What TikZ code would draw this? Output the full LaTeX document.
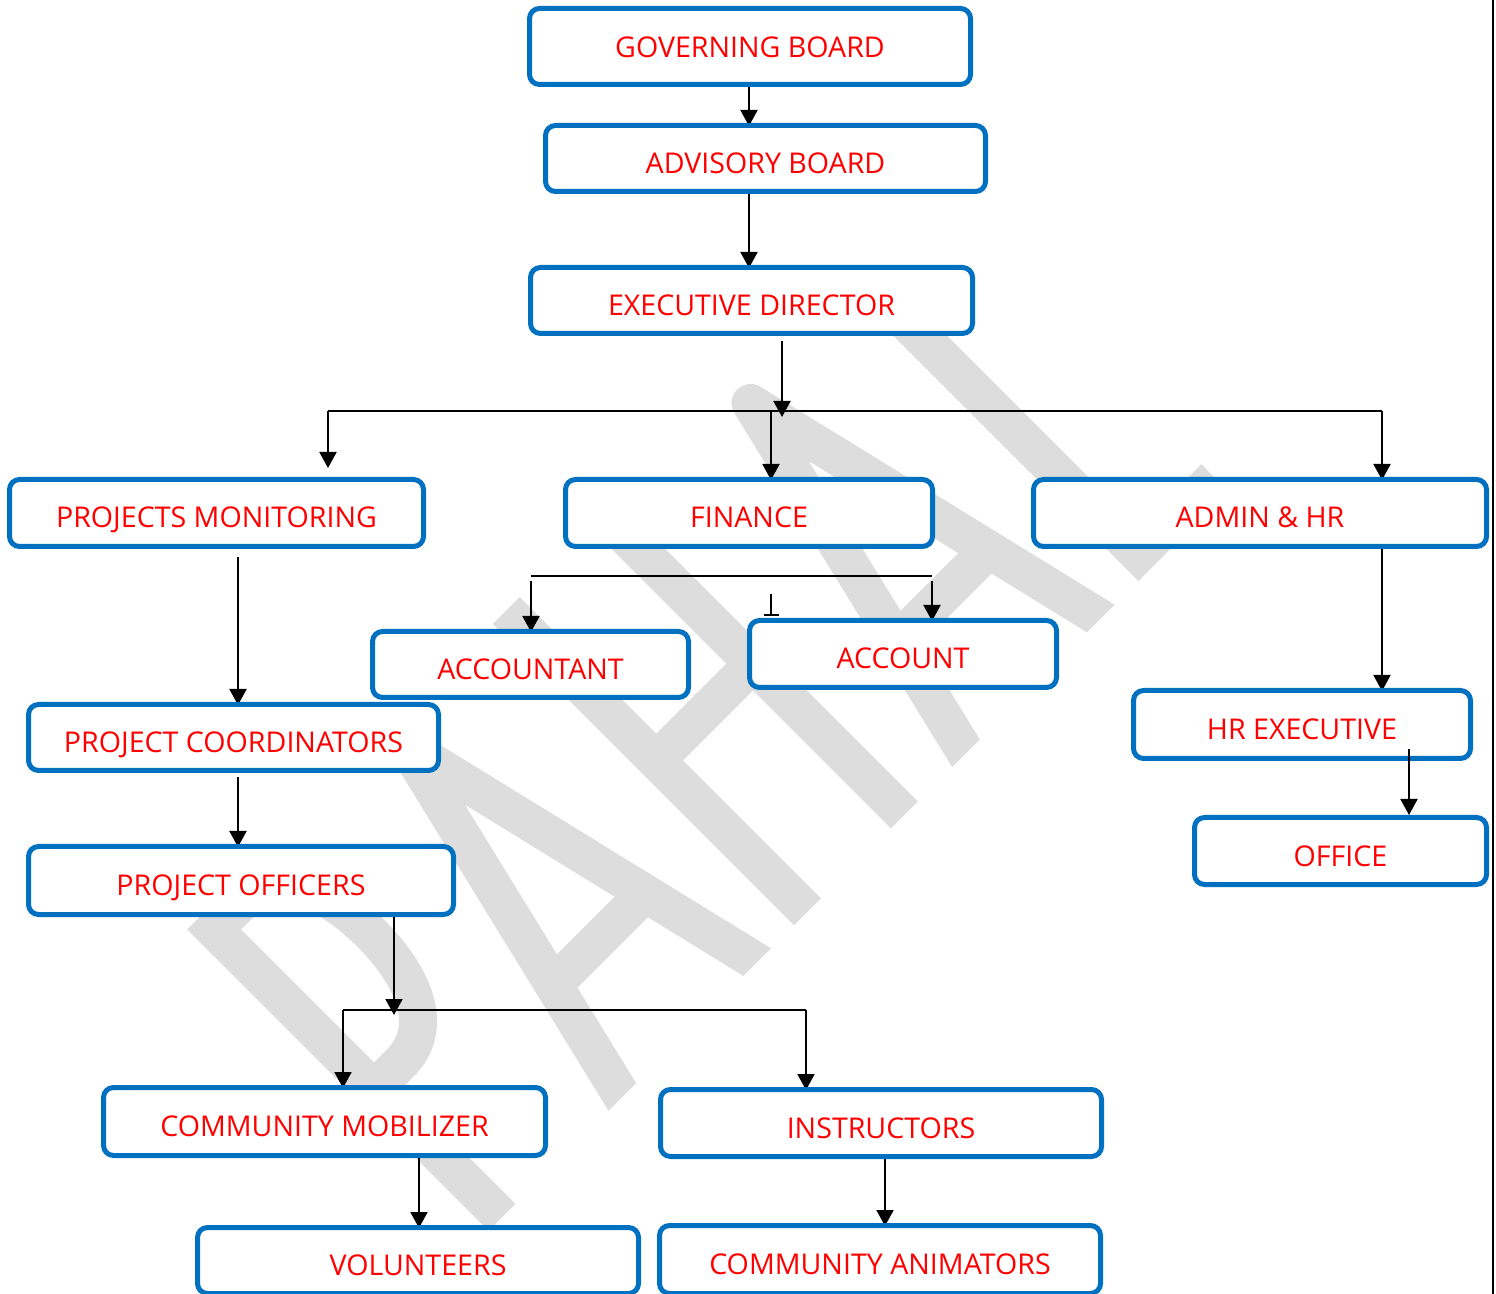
\documentclass[tikz,border=0pt]{standalone}
\usepackage{fontspec}
\setmainfont{Open Sans}
\usetikzlibrary{arrows.meta}
\definecolor{boxblue}{RGB}{0,112,192}
\definecolor{wmgray}{RGB}{221,221,221}
\pgfdeclarelayer{bg}
\pgfdeclarelayer{wm}
\pgfdeclarelayer{conn}
\pgfsetlayers{bg,wm,conn,main}
\tikzset{
  box/.style={draw=boxblue, line width=2.5pt, rounded corners=5pt, fill=white,
    inner sep=0pt, text=red, font=\fontsize{14.3}{16}\selectfont,
    text height=15pt, text depth=0pt},
  ln/.style={line width=1pt, draw=black},
  arr/.style={ln, -{Triangle[length=8pt,width=8.5pt]}},
  arrbox/.style={arr, shorten >=-1.5pt},
  wmk/.style={draw=wmgray, line width=19pt, line cap=butt, line join=round}
}
\begin{document}
\begin{tikzpicture}[x=0.5pt,y=-0.5pt]
\begin{pgfonlayer}{bg}
\fill[white] (0,0) rectangle (1496,1294);
\end{pgfonlayer}
\useasboundingbox (0,0) rectangle (1496,1294);

% boxes
\node[box, minimum width=220.5pt, minimum height=38pt, text height=10.6pt] (gb) at (750,46.5) {GOVERNING BOARD};
\node[box, minimum width=220pt, minimum height=33pt] (ab) at (765.5,158.5) {ADVISORY BOARD};
\node[box, minimum width=221pt, minimum height=33pt] (ed) at (751.5,300.5) {EXECUTIVE DIRECTOR};
\node[box, minimum width=207pt, minimum height=33.5pt] (pm) at (216.5,513) {PROJECTS MONITORING};
\node[box, minimum width=183.5pt, minimum height=33.5pt] (fin) at (749,513) {FINANCE};
\node[box, minimum width=226.5pt, minimum height=33.5pt] (adm) at (1260,513) {ADMIN \& HR};
\node[box, minimum width=158pt, minimum height=33pt] (acct) at (530.5,664.5) {ACCOUNTANT};
\node[box, minimum width=153.5pt, minimum height=33.5pt] (acc) at (903,654) {ACCOUNT};
\node[box, minimum width=205pt, minimum height=33pt] (pc) at (233.5,737.5) {PROJECT COORDINATORS};
\node[box, minimum width=168.5pt, minimum height=34pt] (hre) at (1302,724.5) {HR EXECUTIVE};
\node[box, minimum width=212.5pt, minimum height=34pt] (po) at (241,880.5) {PROJECT OFFICERS};
\node[box, minimum width=146pt, minimum height=33.5pt] (off) at (1340.5,851) {OFFICE};
\node[box, minimum width=221pt, minimum height=34pt] (cm) at (324.5,1121.5) {COMMUNITY MOBILIZER};
\node[box, minimum width=220.5pt, minimum height=33.5pt] (ins) at (881,1123) {INSTRUCTORS};
\node[box, minimum width=220.5pt, minimum height=33pt] (vol) at (418,1260.5) {VOLUNTEERS};
\node[box, minimum width=220.5pt, minimum height=34pt] (ca) at (880,1259.5) {COMMUNITY ANIMATORS};

% free ends / junctions
\coordinate (j1) at (782,417);
\coordinate (hl) at (328,411);
\coordinate (hm) at (771,411);
\coordinate (hr) at (1382,411);
\coordinate (fl) at (531,576);
\coordinate (fr) at (932,576);
\coordinate (ft) at (771,594);
\coordinate (j2) at (394,1015);
\coordinate (bl) at (343,1010);
\coordinate (br) at (806,1010);

\begin{pgfonlayer}{conn}
\draw[arrbox] ([xshift=-0.5pt]gb.south) -- ([xshift=-8.25pt]ab.north);
\draw[arrbox] ([xshift=-8.25pt]ab.south) -- ([xshift=-1.25pt]ed.north);
\draw[arr] ([xshift=15.25pt,yshift=-2.5pt]ed.south) -- (j1);
\draw[ln] (hl) -- (hr);
\draw[arr] (hl) -- ([yshift=4.5pt]pm.north -| hl);
\draw[arrbox] (hm) -- (fin.north -| hm);
\draw[arrbox] (hr) -- (adm.north -| hr);
\draw[ln] (fl) -- (fr);
\draw[arrbox] ([yshift=-2.5pt]fl) -- (acct.north -| fl);
\draw[arrbox] ([yshift=-2.5pt]fr) -- (acc.north -| fr);
\draw[ln, -{Bar[width=7.5pt]}] (ft) -- ([yshift=0.75pt]acc.north -| ft);
\draw[arrbox] ([xshift=10.75pt,yshift=-4pt]pm.south) -- ([xshift=2.25pt]pc.north);
\draw[arrbox] ([xshift=2.25pt,yshift=-2pt]pc.south) -- ([xshift=-1.5pt]po.north);
\draw[arr] ([xshift=76.5pt]po.south) -- (j2);
\draw[ln] (bl) -- (br);
\draw[arrbox] (bl) -- (cm.north -| bl);
\draw[arrbox] (br) -- (ins.north -| br);
\draw[arrbox] ([xshift=47.25pt]cm.south) -- ([xshift=0.5pt]vol.north);
\draw[arrbox] ([xshift=2pt]ins.south) -- ([xshift=2.5pt]ca.north);
\draw[arrbox] ([xshift=61pt]adm.south) -- ([xshift=40pt]hre.north);
\end{pgfonlayer}

\draw[arr] ([xshift=53.5pt,yshift=6pt]hre.south) -- ([xshift=34.25pt]off.north);

% page edge line
\draw[line width=1.2pt] (1493,0) -- (1493,1294);

% watermark
\begin{pgfonlayer}{wm}
\begin{scope}[shift={(309pt,-545pt)}, x={(0.35355pt,0.35355pt)}, y={(-0.35355pt,0.35355pt)}]
\clip (-260,-8) -- (900,-8) -- (900,418) -- (-260,418) -- cycle;
% P
\draw[wmk] (-172,-20) -- (-172,430);
\draw[wmk] (-191,399) -- (-135,399) .. controls (-86,399) and (-64,350) .. (-64,286) .. controls (-64,222) and (-86,173) .. (-135,173) -- (-172,173);
% A
\draw[wmk] (-4.7,-20) -- (93.5,392) -- (191.7,-20);
\draw[wmk] (26,120) -- (161,120);
% H
\draw[wmk] (260,-20) -- (260,430);
\draw[wmk] (397,-20) -- (397,430);
\draw[wmk] (260,206) -- (397,206);
% A
\draw[wmk] (481.3,-20) -- (579.5,392) -- (677.7,-20);
\draw[wmk] (512,120) -- (647,120);
% L
\draw[wmk] (747,-20) -- (747,395);
\draw[wmk] (728,11) -- (855,11);
\end{scope}
\end{pgfonlayer}
\end{tikzpicture}
\end{document}
